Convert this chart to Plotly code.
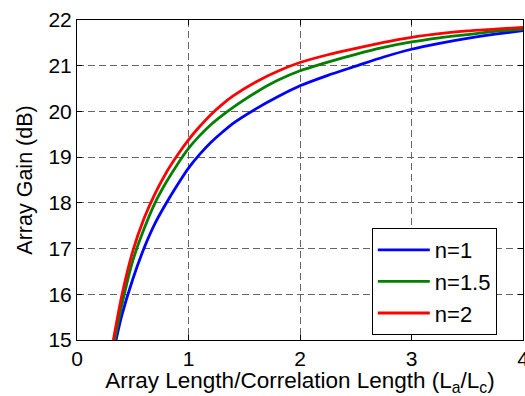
import plotly.graph_objects as go

x_red = [0.326, 0.4, 0.5, 0.6, 0.7, 0.8, 0.9, 1.0, 1.1, 1.2, 1.3, 1.4, 1.6, 1.8, 2.0, 2.25, 2.5, 2.75, 3.0, 3.25, 3.5, 3.75, 4.0]
y_red = [15.0, 15.95, 16.94, 17.65, 18.2, 18.66, 19.04, 19.38, 19.67, 19.93, 20.15, 20.34, 20.64, 20.88, 21.07, 21.24, 21.38, 21.51, 21.62, 21.70, 21.76, 21.80, 21.84]

x_green = [0.338, 0.4, 0.5, 0.6, 0.7, 0.8, 0.9, 1.0, 1.1, 1.2, 1.3, 1.4, 1.6, 1.8, 2.0, 2.25, 2.5, 2.75, 3.0, 3.25, 3.5, 3.75, 4.0]
y_green = [15.0, 15.74, 16.73, 17.42, 18.0, 18.45, 18.84, 19.19, 19.47, 19.71, 19.91, 20.09, 20.41, 20.68, 20.89, 21.08, 21.25, 21.40, 21.52, 21.61, 21.68, 21.75, 21.80]

x_blue = [0.35, 0.4, 0.5, 0.6, 0.7, 0.8, 0.9, 1.0, 1.1, 1.2, 1.3, 1.4, 1.6, 1.8, 2.0, 2.25, 2.5, 2.75, 3.0, 3.25, 3.5, 3.75, 4.0]
y_blue = [15.0, 15.52, 16.33, 17.0, 17.55, 17.99, 18.39, 18.76, 19.06, 19.32, 19.54, 19.74, 20.05, 20.32, 20.56, 20.79, 20.99, 21.19, 21.36, 21.49, 21.6, 21.69, 21.77]

series = [
    ("n=1", x_blue, y_blue, "#0000FF"),
    ("n=1.5", x_green, y_green, "#008000"),
    ("n=2", x_red, y_red, "#FF0000"),
]

x_ticks = [0, 1, 2, 3, 4]
y_ticks = [15, 16, 17, 18, 19, 20, 21, 22]

FONT = "Liberation Sans, Arial, sans-serif"

fig = go.Figure()
for name, xs, ys, col in series:
    fig.add_trace(go.Scatter(x=xs, y=ys, mode="lines", name=name,
                             line=dict(color=col, width=2.8, shape="spline", smoothing=0.6)))

axis_common = dict(
    showline=True, linecolor="black", linewidth=1, mirror="ticks",
    ticks="inside", ticklen=5, tickcolor="black",
    showgrid=True, gridcolor="#666666", griddash="7px,4px", gridwidth=1,
    zeroline=False, tickfont=dict(family=FONT, size=21, color="black"),
    ticklabeloverflow="allow", automargin=False,
)

fig.update_layout(
    template="none",
    width=525, height=396,
    margin=dict(l=77, r=2, t=20, b=56),
    paper_bgcolor="white", plot_bgcolor="white",
    font=dict(family=FONT, size=21, color="black"),
    xaxis=dict(range=[0, 4], tickvals=x_ticks, ticktext=[str(v) for v in x_ticks],
               title=dict(text="Array Length/Correlation Length (L<sub>a</sub>/L<sub>c</sub>)",
                          font=dict(family=FONT, size=22.5), standoff=3),
               **axis_common),
    yaxis=dict(range=[15, 22], tickvals=y_ticks, ticktext=[str(v) for v in y_ticks],
               title=dict(text="Array Gain (dB)", font=dict(family=FONT, size=21.5), standoff=9),
               **axis_common),
    legend=dict(x=0.661, y=0.35, xanchor="left", yanchor="top",
                bordercolor="black", borderwidth=1, bgcolor="white",
                font=dict(family=FONT, size=22), tracegroupgap=0, itemwidth=52),
    showlegend=True,
)

fig.write_html("out.html")
